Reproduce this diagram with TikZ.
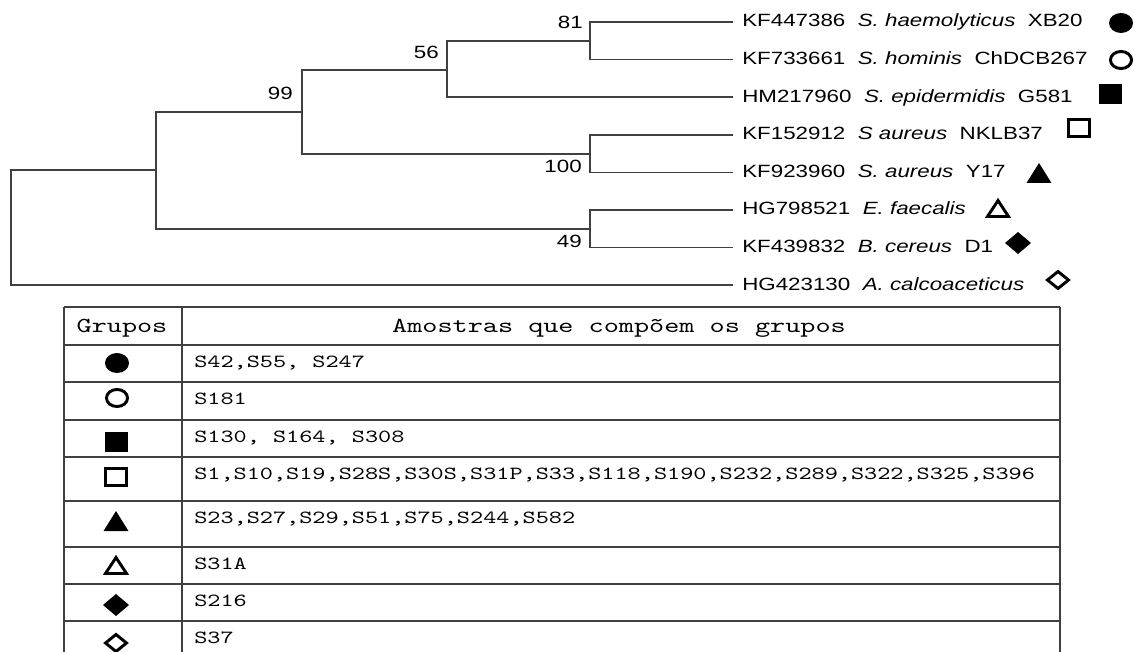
\documentclass[tikz,border=0pt]{standalone}
\usepackage{fontspec}
\usepackage{tikz}
\usetikzlibrary{positioning, calc}
\newfontfamily\treefont{Liberation Sans}[FakeStretch=1.26]
\newfontfamily\tabfont{lmmono10-regular.otf}[FakeStretch=1.35]

\begin{document}
\begin{tikzpicture}[x=0.75pt, y=-0.75pt,
  branch/.style={draw=black!75, line width=1.1pt},
  leaf/.style={anchor=west, inner xsep=6.75pt, inner ysep=0pt, text height=9.5pt, text depth=2pt, font=\treefont\fontsize{13.3}{15}\selectfont},
  boot/.style={anchor=east, inner sep=0pt, font=\treefont\fontsize{13.3}{15}\selectfont},
  tabline/.style={draw=black!75, line width=1.4pt},
  head/.style={anchor=base, inner sep=0pt, font=\tabfont\fontsize{16}{18}\selectfont},
  sample/.style={anchor=base west, inner sep=0pt, font=\tabfont\fontsize{13.9}{16}\selectfont},
  fcirc/.pic={\fill (0,0) ellipse [x radius=9pt, y radius=7.5pt];},
  ocirc/.pic={\draw[line width=2.2pt] (0,0) ellipse [x radius=7.9pt, y radius=6.4pt];},
  fsq/.pic={\fill (-11.5,-10) rectangle (11.5,10);},
  osq/.pic={\draw[line width=2.2pt] (-10.5,-8.5) rectangle (10.5,8.5);},
  ftri/.pic={\fill (-12.5,10) -- (12.5,10) -- (0,-10) -- cycle;},
  otri/.pic={\draw[line width=2.2pt] (-10.5,8.5) -- (10.5,8.5) -- (0,-7.5) -- cycle;},
  fdia/.pic={\fill (-13,0) -- (0,-11) -- (13,0) -- (0,11) -- cycle;},
  odia/.pic={\draw[line width=2.2pt] (-10.5,0) -- (0,-8.5) -- (10.5,0) -- (0,8.5) -- cycle;}
]
\useasboundingbox (0,0) rectangle (1134,652);

\node[leaf] (l1) at (733,22) {KF447386\ \ \textit{S. haemolyticus}\ \ XB20};
\node[leaf] (l2) at (733,59.6) {KF733661\ \ \textit{S. hominis}\ \ ChDCB267};
\node[leaf] (l3) at (733,97.2) {HM217960\ \ \textit{S. epidermidis}\ \ G581};
\node[leaf] (l4) at (733,134.8) {KF152912\ \ \textit{S aureus}\ \ NKLB37};
\node[leaf] (l5) at (733,172.4) {KF923960\ \ \textit{S. aureus}\ \ Y17};
\node[leaf] (l6) at (733,210) {HG798521\ \ \textit{E. faecalis}};
\node[leaf] (l7) at (733,247.6) {KF439832\ \ \textit{B. cereus}\ \ D1};
\node[leaf] (l8) at (733,285.2) {HG423130\ \ \textit{A. calcoaceticus}};

\coordinate (n81) at (590,41);
\coordinate (n56) at (447,70);
\coordinate (n99) at (302,112);
\coordinate (n100) at (590,154);
\coordinate (n49) at (590,229);
\coordinate (nin) at (156,170);
\coordinate (root) at (11,228);

\draw[branch] (l1.west) -| (n81) |- (l2.west);
\draw[branch] (n81) -| (n56) |- (l3.west);
\draw[branch] (l4.west) -| (n100) |- (l5.west);
\draw[branch] (n56) -| (n99) |- (n100);
\draw[branch] (l6.west) -| (n49) |- (l7.west);
\draw[branch] (n99) -| (nin) |- (n49);
\draw[branch] (nin) -| (root) |- (l8.west);

\node[boot] (b81) at (583,22) {81};
\node[boot] (b56) at (439,52) {56};
\node[boot] (b99) at (293,93) {99};
\node[boot] (b100) at (582,166) {100};
\node[boot] (b49) at (582,241) {49};

\pic (t1) at (1121,23) {fcirc};
\pic (t2) at (1121,60) {ocirc};
\pic (t3) at (1110,94) {fsq};
\pic (t4) at (1079,128) {osq};
\pic (t5) at (1039,173) {ftri};
\pic (t6) at (998,208) {otri};
\pic (t7) at (1018,243) {fdia};
\pic (t8) at (1058,280) {odia};

\draw[tabline] (64,307) -- (64,652);
\draw[tabline] (182,307) -- (182,652);
\draw[tabline] (1060,307) -- (1060,652);
\draw[tabline] (64,307) -- (1060,307);
\draw[tabline] (64,345) -- (1060,345);
\draw[tabline] (64,382) -- (1060,382);
\draw[tabline] (64,420) -- (1060,420);
\draw[tabline] (64,457) -- (1060,457);
\draw[tabline] (64,501) -- (1060,501);
\draw[tabline] (64,547) -- (1060,547);
\draw[tabline] (64,584) -- (1060,584);
\draw[tabline] (64,621) -- (1060,621);

\node[head] (hgrp) at (122,332) {Grupos};
\node[head] (hsam) at (619,332) {Amostras que compõem os grupos};

\node[sample] (r1) at (194,367) {S42,S55, S247};
\node[sample] (r2) at (194,404) {S181};
\node[sample] (r3) at (194,442) {S130, S164, S308};
\node[sample] (r4) at (194,479) {S1,S10,S19,S28S,S30S,S31P,S33,S118,S190,S232,S289,S322,S325,S396};
\node[sample] (r5) at (194,523) {S23,S27,S29,S51,S75,S244,S582};
\node[sample] (r6) at (194,569) {S31A};
\node[sample] (r7) at (194,606) {S216};
\node[sample] (r8) at (194,643) {S37};

\pic (g1) at (117,363) {fcirc};
\pic (g2) at (117,398) {ocirc};
\pic (g3) at (116,442) {fsq};
\pic (g4) at (116,477) {osq};
\pic (g5) at (116,521) {ftri};
\pic (g6) at (116,565) {otri};
\pic (g7) at (116,605) {fdia};
\pic (g8) at (116,643) {odia};
\end{tikzpicture}
\end{document}
